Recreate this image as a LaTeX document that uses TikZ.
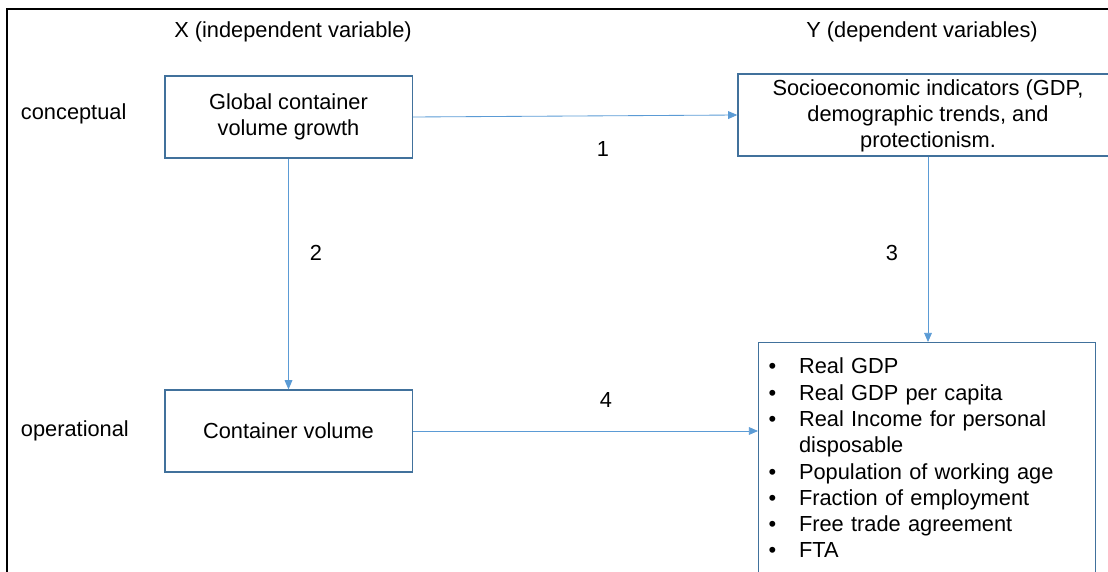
\documentclass[tikz,border=0pt]{standalone}
\usepackage{fontspec}
\setmainfont{Liberation Sans}
\usepackage{tikz}
\usetikzlibrary{arrows.meta}
\definecolor{boxblue}{RGB}{65,113,156}
\definecolor{linkblue}{RGB}{91,155,213}

\begin{document}
\begin{tikzpicture}[x=0.025cm,y=-0.025cm,
  font=\fontsize{15.5}{18.7}\selectfont,
  box/.style={draw=boxblue,line width=0.9pt,align=center,inner sep=0pt},
  link/.style={draw=linkblue,line width=0.6pt,-{Triangle[length=6.5pt,width=5.5pt]}}]
\useasboundingbox (0,0) rectangle (1108,571);
\clip (0,0) rectangle (1108,571);
\draw[line width=1.6pt] (7,590) -- (7,9) -- (1120,9);
  \node (xhead) at (293,32) {X (independent variable)};
  \node (yhead) at (922,32) {Y (dependent variables)};
  \node[anchor=west] (concept) at (16,114) {conceptual};
  \node[anchor=west] (oper) at (16,431) {operational};
  \node[box,minimum width=6.18cm,minimum height=2.05cm] (global) at (288.5,117)
    {Global container\\volume growth};
  \node[box,minimum width=9.5cm,minimum height=2.05cm,text depth=0.35ex] (socio) at (928,115)
    {Socioeconomic indicators (GDP,\\demographic trends, and\\protectionism.};
  \node[box,minimum width=6.18cm,minimum height=2.05cm] (volume) at (288.5,431)
    {Container volume};
  \node[box,anchor=north west,align=left,inner xsep=0.25cm,inner ysep=0.32cm,
    text width=7.925cm] (indic) at (758,342)
    {\begin{tabular}{@{}p{0.76cm}@{}l@{}}
      \textbullet & Real GDP\\
      \textbullet & Real GDP per capita\\
      \textbullet & Real Income for personal\\
                  & disposable\\
      \textbullet & Population of working age\\
      \textbullet & Fraction of employment\\
      \textbullet & Free trade agreement\\
      \textbullet & FTA
    \end{tabular}};
  \draw[link] (global.east) -- (socio.west);
  \draw[link] (global.south) -- (volume.north);
  \draw[link] (socio.south) -- (socio.south |- indic.north);
  \draw[link] (volume.east) -- (volume.east -| indic.west);
  \node (one) at (603,149) {1};
  \node (two) at (316,253) {2};
  \node (three) at (892,253) {3};
  \node (four) at (606,400) {4};
\end{tikzpicture}
\end{document}
